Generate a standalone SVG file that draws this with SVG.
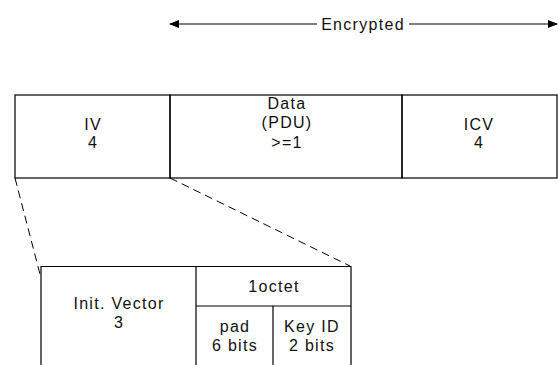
<svg xmlns="http://www.w3.org/2000/svg" width="558" height="365" viewBox="0 0 558 365">
<style>
.b{fill:none;stroke:#000;stroke-width:1.2}
.t{font-family:"Liberation Sans",Arial,sans-serif;font-size:16px;letter-spacing:1.3px;fill:#111;text-anchor:middle}
.d{fill:none;stroke:#000;stroke-width:1;stroke-dasharray:8,5}
</style>
<defs>
<marker id="ah" markerWidth="10" markerHeight="8" refX="9" refY="4" orient="auto" markerUnits="userSpaceOnUse">
<path d="M0,0 L10,4 L0,8 Z" fill="#000"/>
</marker>
</defs>
<rect width="558" height="365" fill="#fff"/>
<g id="encrypted">
<text class="t" x="363" y="30">Encrypted</text>
</g>
<g id="connectors">
<line x1="317" y1="24" x2="170" y2="24" stroke="#000" stroke-width="1.2" marker-end="url(#ah)"/>
<line x1="409" y1="24" x2="557" y2="24" stroke="#000" stroke-width="1.2" marker-end="url(#ah)"/>
<line class="d" x1="15" y1="178" x2="41" y2="278"/>
<line class="d" x1="170" y1="178" x2="350" y2="266"/>
</g>
<g id="iv">
<rect class="b" x="15" y="95" width="155" height="83"/>
<text class="t" x="93" y="130">IV</text>
<text class="t" x="93" y="148">4</text>
</g>
<g id="data">
<rect class="b" x="170" y="95" width="232" height="83"/>
<text class="t" x="287" y="109">Data</text>
<text class="t" x="287" y="128">(PDU)</text>
<text class="t" x="287" y="148">&gt;=1</text>
</g>
<g id="icv">
<rect class="b" x="402" y="95" width="155" height="83"/>
<text class="t" x="479" y="130">ICV</text>
<text class="t" x="479" y="148">4</text>
</g>
<g id="initvector">
<path class="b" d="M41,366 V266.5 H196 V366"/>
<text class="t" x="119" y="309">Init. Vector</text>
<text class="t" x="119" y="328">3</text>
</g>
<g id="octet">
<path class="b" d="M196,266.5 H351 V366 M196,306 H351"/>
<text class="t" x="274" y="292">1octet</text>
</g>
<g id="pad">
<path class="b" d="M273,306 V366"/>
<text class="t" x="235" y="332">pad</text>
<text class="t" x="235" y="351">6 bits</text>
</g>
<g id="keyid">
<text class="t" x="312" y="332">Key ID</text>
<text class="t" x="312" y="351">2 bits</text>
</g>
</svg>
